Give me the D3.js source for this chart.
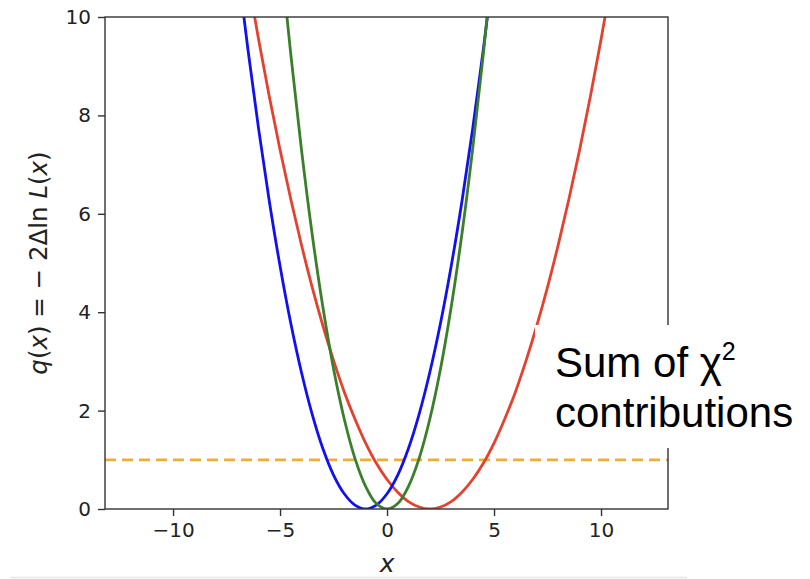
<!DOCTYPE html>
<html>
<head>
<meta charset="utf-8">
<script src="https://cdn.jsdelivr.net/npm/d3@7"></script>
<style>
  body { margin: 0; background: #fff; }
  svg { display: block; }
</style>
</head>
<body>
<svg id="chart" width="810" height="579"></svg>
<script>
// curves: q values on a grid of x
const blueX = [-7, -6.5, -6, -5.5, -5, -4.5, -4, -3.5, -3, -2.5, -2, -1.5, -1, -0.5, 0, 0.5, 1, 1.5, 2, 2.5, 3, 3.5, 4, 4.5, 5];
const blueQ = [11.11, 9.34, 7.72, 6.25, 4.94, 3.78, 2.78, 1.93, 1.23, 0.69, 0.31, 0.08, 0, 0.08, 0.31, 0.69, 1.23, 1.93, 2.78, 3.78, 4.94, 6.25, 7.72, 9.34, 11.11];

const greenX = [-5, -4.5, -4, -3.5, -3, -2.5, -2, -1.5, -1, -0.5, 0, 0.5, 1, 1.5, 2, 2.5, 3, 3.5, 4, 4.5, 5];
const greenQ = [11.42, 9.25, 7.31, 5.59, 4.11, 2.85, 1.83, 1.03, 0.46, 0.11, 0, 0.11, 0.46, 1.03, 1.83, 2.85, 4.11, 5.59, 7.31, 9.25, 11.42];

const redX = [-7, -6.5, -6, -5.5, -5, -4.5, -4, -3.5, -3, -2.5, -2, -1.5, -1, -0.5, 0, 0.5, 1, 1.5, 2,
              2.5, 3, 3.5, 4, 4.5, 5, 5.5, 6, 6.5, 7, 7.5, 8, 8.5, 9, 9.5, 10, 10.5, 11];
const redQ = [12.07, 10.77, 9.54, 8.38, 7.30, 6.30, 5.37, 4.51, 3.73, 3.02, 2.38, 1.83, 1.34, 0.93, 0.60, 0.34, 0.15, 0.04, 0,
              0.04, 0.15, 0.34, 0.60, 0.93, 1.34, 1.83, 2.38, 3.02, 3.73, 4.51, 5.37, 6.30, 7.30, 8.38, 9.54, 10.77, 12.07];

const thresholdQ = 1;
const xTicks = [-10, -5, 0, 5, 10];
const yTicks = [0, 2, 4, 6, 8, 10];

const curves = [
    {name: "red", xs: redX, qs: redQ, color: "#e5412f"},
    {name: "blue", xs: blueX, qs: blueQ, color: "#1010f0"},
    {name: "green", xs: greenX, qs: greenQ, color: "#3a7f2a"}
];

let margin = {top: 17, right: 142, bottom: 70, left: 105};
let width = 810 - margin.left - margin.right;
let height = 579 - margin.top - margin.bottom;

let svg = d3.select("#chart");
let x = d3.scaleLinear().domain([-13.18, 13.13]).range([0, width]);
let y = d3.scaleLinear().domain([0, 10]).range([height, 0]);

let plot = svg.append("g")
    .attr("transform", "translate(" + margin.left + "," + margin.top + ")");

plot.append("clipPath").attr("id", "clip")
    .append("rect").attr("width", width).attr("height", height);

// threshold line
plot.append("line")
    .attr("x1", 0).attr("x2", width)
    .attr("y1", y(thresholdQ)).attr("y2", y(thresholdQ))
    .attr("stroke", "#efab3b")
    .attr("stroke-width", 2.8)
    .attr("stroke-dasharray", "11,6");

let line = d3.line()
    .x(d => x(d[0]))
    .y(d => y(d[1]))
    .curve(d3.curveCatmullRom);

plot.append("g").attr("clip-path", "url(#clip)")
    .selectAll("path")
    .data(curves)
    .enter().append("path")
    .attr("d", c => line(c.xs.map((v, i) => [v, c.qs[i]])))
    .attr("fill", "none")
    .attr("stroke", c => c.color)
    .attr("stroke-width", 2.8);

// axes
let xAxis = plot.append("g")
    .attr("transform", "translate(0," + height + ")")
    .call(d3.axisBottom(x).tickValues(xTicks).tickSize(7).tickPadding(7)
        .tickFormat(d => d < 0 ? "\u2212" + Math.abs(d) : d));
let yAxis = plot.append("g")
    .call(d3.axisLeft(y).tickValues(yTicks).tickSize(7).tickPadding(7));

[xAxis, yAxis].forEach(a => {
    a.select(".domain").remove();
    a.selectAll("line").attr("stroke", "#333").attr("stroke-width", 1.4);
    a.selectAll("text").attr("fill", "#222")
        .attr("font-family", "DejaVu Sans").attr("font-size", 20);
});

plot.append("rect")
    .attr("width", width).attr("height", height)
    .attr("fill", "none").attr("stroke", "#333").attr("stroke-width", 1.4);

// axis labels
let yLab = svg.append("text")
    .attr("transform", "translate(47," + (margin.top + height / 2) + ") rotate(-90)")
    .attr("text-anchor", "middle")
    .attr("font-family", "DejaVu Sans").attr("font-size", 24.5)
    .attr("fill", "#222");
yLab.append("tspan").style("font-style", "italic").text("q");
yLab.append("tspan").text("(");
yLab.append("tspan").style("font-style", "italic").text("x");
yLab.append("tspan").text(") = \u2212 2\u0394ln ");
yLab.append("tspan").style("font-style", "italic").text("L");
yLab.append("tspan").text("(");
yLab.append("tspan").style("font-style", "italic").text("x");
yLab.append("tspan").text(")");

svg.append("text")
    .attr("x", margin.left + x(0)).attr("y", 572)
    .attr("text-anchor", "middle")
    .attr("font-family", "DejaVu Sans").attr("font-size", 25)
    .style("font-style", "italic")
    .attr("fill", "#222")
    .text("x");

// faint line at the bottom of the screenshot
svg.append("line")
    .attr("x1", 10).attr("x2", 687).attr("y1", 577.5).attr("y2", 577.5)
    .attr("stroke", "#e6e6e6").attr("stroke-width", 1.5);

// annotation box
svg.append("rect")
    .attr("x", 535).attr("y", 325).attr("width", 275).attr("height", 123)
    .attr("fill", "#fff");
let note = svg.append("text")
    .attr("font-family", "Liberation Sans, Arial").attr("font-size", 42)
    .attr("fill", "#000");
let l1 = note.append("tspan").attr("x", 555).attr("y", 377).text("Sum of \u03C7");
l1.append("tspan").attr("dy", -17).attr("font-size", 25).text("2");
note.append("tspan").attr("x", 555).attr("y", 427).text("contributions");
</script>
</body>
</html>
